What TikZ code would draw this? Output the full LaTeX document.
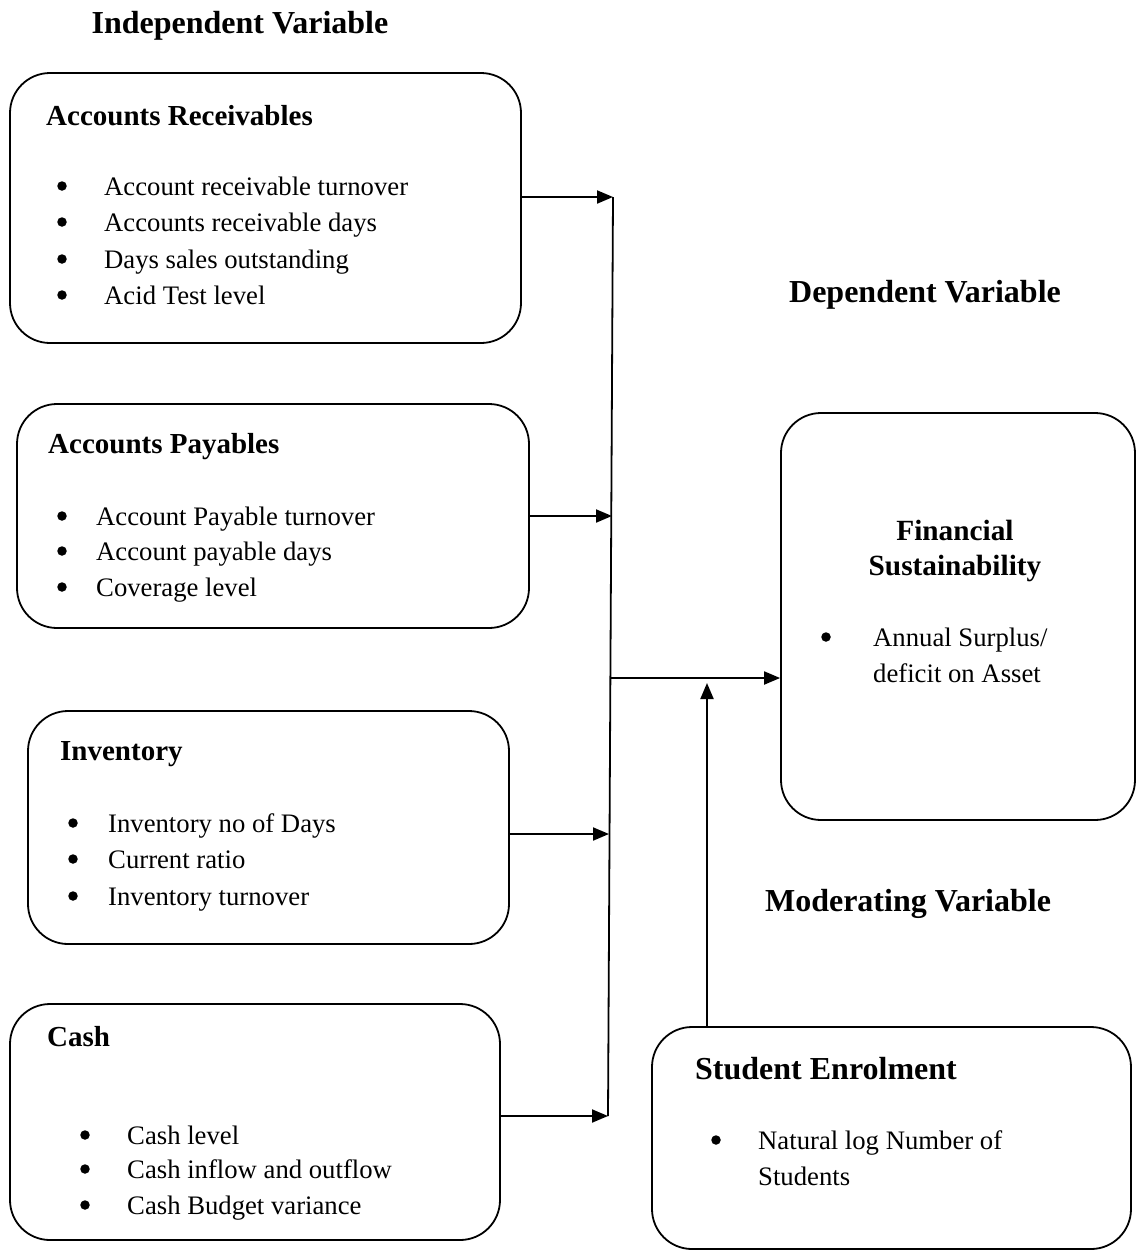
\documentclass[tikz,border=0pt]{standalone}
\usepackage{fontspec}
\setmainfont{Liberation Serif}
\usetikzlibrary{arrows.meta}
\begin{document}
\begin{tikzpicture}[x=1pt,y=-1pt,
  box/.style={draw,line width=1.8pt,rounded corners=40pt,inner sep=0pt},
  arr/.style={line width=2pt,-{Triangle[length=16pt,width=13pt]}},
  trunk/.style={line width=1.8pt},
  head/.style={anchor=base,font=\fontsize{32}{38}\selectfont\bfseries,inner sep=0pt},
  ttl/.style={anchor=base west,font=\fontsize{29}{34}\selectfont\bfseries,inner sep=0pt},
  ttlc/.style={anchor=base,font=\fontsize{29.3}{34}\selectfont\bfseries,inner sep=0pt},
  itm/.style={anchor=base west,font=\fontsize{26.7}{32}\selectfont,inner sep=0pt},
  bul/.style={circle,fill=black,inner sep=0pt,minimum size=9.5pt}]
\useasboundingbox (0,0) rectangle (1137,1251);

% headings
\node[head] (hind) at (240,33) {Independent Variable};
\node[head] (hdep) at (925,302) {Dependent Variable};
\node[head] (hmod) at (908,911) {Moderating Variable};

% boxes
\node[box,minimum width=511pt,minimum height=270pt] (b1) at (265.5,208) {};
\node[box,minimum width=512pt,minimum height=224pt] (b2) at (273,516) {};
\node[box,minimum width=481pt,minimum height=233pt] (b3) at (268.5,827.5) {};
\node[box,minimum width=490pt,minimum height=236pt] (b4) at (255,1122) {};
\node[box,minimum width=354pt,minimum height=407pt] (b5) at (958,616.5) {};
\node[box,minimum width=479pt,minimum height=222pt] (b6) at (891.5,1138) {};

% box 1
\node[ttl] (t1) at (46,125) {Accounts Receivables};
\node[bul] (u11) at (62,186) {}; \node[itm] (i11) at (104,195) {Account receivable turnover};
\node[bul] (u12) at (62,222) {}; \node[itm] (i12) at (104,231) {Accounts receivable days};
\node[bul] (u13) at (62,259) {}; \node[itm] (i13) at (104,268) {Days sales outstanding};
\node[bul] (u14) at (62,295) {}; \node[itm] (i14) at (104,304) {Acid Test level};

% box 2
\node[ttl] (t2) at (48,453) {Accounts Payables};
\node[bul] (u21) at (62,516) {}; \node[itm] (i21) at (96,525) {Account Payable turnover};
\node[bul] (u22) at (62,551) {}; \node[itm] (i22) at (96,560) {Account payable days};
\node[bul] (u23) at (62,587) {}; \node[itm] (i23) at (96,596) {Coverage level};

% box 3
\node[ttl] (t3) at (60,760) {Inventory};
\node[bul] (u31) at (73,823) {}; \node[itm] (i31) at (108,832) {Inventory no of Days};
\node[bul] (u32) at (73,859) {}; \node[itm] (i32) at (108,868) {Current ratio};
\node[bul] (u33) at (73,896) {}; \node[itm] (i33) at (108,905) {Inventory turnover};

% box 4
\node[ttl] (t4) at (47,1046) {Cash};
\node[bul] (u41) at (85,1135) {}; \node[itm] (i41) at (127,1144) {Cash level};
\node[bul] (u42) at (85,1169) {}; \node[itm] (i42) at (127,1178) {Cash inflow and outflow};
\node[bul] (u43) at (85,1205) {}; \node[itm] (i43) at (127,1214) {Cash Budget variance};

% box 5
\node[ttlc] (t5a) at (955,540) {Financial};
\node[ttlc] (t5b) at (955,575) {Sustainability};
\node[bul] (u51) at (826,637) {}; \node[itm] (i51) at (873,646) {Annual Surplus/};
\node[itm] (i52) at (873,682) {deficit on Asset};

% box 6
\node[anchor=base west,font=\fontsize{32}{37}\selectfont\bfseries,inner sep=0pt] (t6) at (695,1079) {Student Enrolment};
\node[bul] (u61) at (716,1140) {}; \node[itm] (i61) at (758,1149) {Natural log Number of};
\node[itm] (i62) at (758,1185) {Students};

% connectors
\coordinate (j1) at (613,197);
\coordinate (j2) at (612,516);
\coordinate (j3) at (609,834);
\coordinate (j4) at (608,1116);
\coordinate (jm) at (610,678);
\coordinate (jv) at (707,683);

\draw[trunk] (j1) -- (j4);
\draw[arr] (b1.east |- j1) -- (j1);
\draw[arr] (b2.east |- j2) -- (j2);
\draw[arr] (b3.east |- j3) -- (j3);
\draw[arr] (b4.east |- j4) -- (j4);
\draw[arr] (jm) -- (b5.west |- jm);
\draw[arr] (b6.north -| jv) -- (jv);
\end{tikzpicture}
\end{document}
